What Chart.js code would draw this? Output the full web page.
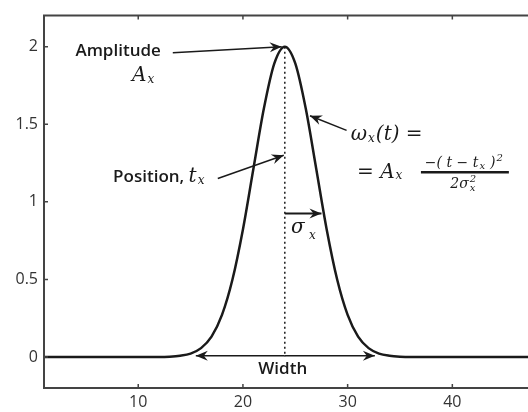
<!DOCTYPE html>
<html lang="en">
<head>
    <meta charset="UTF-8">
    <title>Gaussian pulse</title>
    <style>
        html, body {
            margin: 0;
            padding: 0;
            background: #ffffff;
            overflow: hidden;
        }
        .frame {
            width: 528px;
            height: 412px;
            overflow: hidden;
        }
        canvas {
            display: block;
        }
    </style>
</head>
<body>
    <div class="frame">
        <canvas id="pulseChart" width="540" height="412"></canvas>
    </div>
    <script src="https://cdn.jsdelivr.net/npm/chart.js"></script>
    <script>
        // values
        const tValues = [1, 2, 3, 4, 5, 6, 7, 8, 9, 10, 11, 12, 13, 14, 15, 16, 17, 18, 19, 20, 21, 22, 23, 24,
                         25, 26, 27, 28, 29, 30, 31, 32, 33, 34, 35, 36, 37, 38, 39, 40, 41, 42, 43, 44, 45, 46, 47, 48];
        const wValues = [0, 0, 0, 0, 0, 0, 0, 0, 0, 0, 0, 0, 0.002, 0.008, 0.022, 0.057, 0.131, 0.271, 0.499, 0.822, 1.213, 1.601, 1.892, 2.0,
                         1.892, 1.601, 1.213, 0.822, 0.499, 0.271, 0.131, 0.057, 0.022, 0.008, 0.002, 0, 0, 0, 0, 0, 0, 0, 0, 0, 0, 0, 0, 0];
        const xTicks = [10, 20, 30, 40];
        const yTicks = [0, 0.5, 1, 1.5, 2];

        const tickFont = { family: '"Open Sans", sans-serif', size: 16 };
        const labelFont = '600 17px "Open Sans", sans-serif';
        const mathFont = 'italic 20px "DejaVu Serif", serif';
        const subFont = 'italic 12px "DejaVu Serif", serif';
        const smallFont = 'italic 14px "DejaVu Serif", serif';
        const tinyFont = 'italic 10px "DejaVu Serif", serif';

        function arrowHead(ctx, x1, y1, x2, y2) {
            const a = Math.atan2(y2 - y1, x2 - x1);
            const len = 12, half = 5, back = 8;
            ctx.save();
            ctx.translate(x2, y2);
            ctx.rotate(a);
            ctx.beginPath();
            ctx.moveTo(0, 0);
            ctx.lineTo(-len, -half);
            ctx.lineTo(-back, 0);
            ctx.lineTo(-len, half);
            ctx.closePath();
            ctx.fill();
            ctx.restore();
        }

        function arrow(ctx, x1, y1, x2, y2) {
            ctx.beginPath();
            ctx.moveTo(x1, y1);
            ctx.lineTo(x2, y2);
            ctx.stroke();
            arrowHead(ctx, x1, y1, x2, y2);
        }

        // pieces of text drawn one after another: {t, f, dy, dx, stay}
        function richText(ctx, x, y, pieces, align) {
            let total = 0;
            pieces.forEach(p => {
                ctx.font = p.f;
                if (!p.stay) total += ctx.measureText(p.t).width + (p.dx || 0);
            });
            let cx = align === 'center' ? x - total / 2 : x;
            ctx.textAlign = 'left';
            pieces.forEach(p => {
                ctx.font = p.f;
                ctx.fillText(p.t, cx, y + (p.dy || 0));
                if (!p.stay) cx += ctx.measureText(p.t).width + (p.dx || 0);
            });
        }

        const annotations = {
            id: 'annotations',
            afterDatasetsDraw(chart) {
                const ctx = chart.ctx;
                const xs = chart.scales.x, ys = chart.scales.y;
                const px = v => xs.getPixelForValue(v);
                const py = v => ys.getPixelForValue(v);
                const area = chart.chartArea;

                ctx.save();
                ctx.strokeStyle = '#1a1a1a';
                ctx.fillStyle = '#1a1a1a';

                // dotted line at the position
                ctx.lineWidth = 1.5;
                ctx.setLineDash([2, 3]);
                ctx.beginPath();
                ctx.moveTo(px(24), py(2));
                ctx.lineTo(px(24), py(0));
                ctx.stroke();
                ctx.setLineDash([]);

                ctx.lineWidth = 1.5;
                arrow(ctx, px(13.3), py(1.96), px(23.7), py(2.0));
                arrow(ctx, px(17.6), py(1.15), px(23.9), py(1.30));
                arrow(ctx, px(29.9), py(1.46), px(26.4), py(1.555));
                ctx.lineWidth = 2;
                arrow(ctx, px(24), py(0.924), px(27.5), py(0.924));
                ctx.lineWidth = 1.5;
                arrow(ctx, px(24), py(0.008), px(15.5), py(0.008));
                arrow(ctx, px(24), py(0.008), px(32.6), py(0.008));

                ctx.textBaseline = 'middle';
                ctx.font = labelFont;
                ctx.textAlign = 'left';
                ctx.fillText('Amplitude', px(4.0), py(1.968));
                ctx.textAlign = 'center';
                ctx.fillText('Width', px(23.8), py(-0.076));

                richText(ctx, px(9.4), py(1.81), [{ t: 'A', f: mathFont, dx: 1 }, { t: 'x', f: subFont, dy: 4 }]);
                richText(ctx, px(7.6), py(1.16), [{ t: 'Position, ', f: labelFont }, { t: 't', f: mathFont, dx: 1 }, { t: 'x', f: subFont, dy: 4 }]);
                richText(ctx, px(30.3), py(1.433), [{ t: '\u03c9', f: mathFont, dx: 1 }, { t: 'x', f: subFont, dy: 4, dx: 1 }, { t: '(t) =', f: mathFont }]);
                richText(ctx, px(30.9), py(1.19), [{ t: '= A', f: mathFont, dx: 1 }, { t: 'x', f: subFont, dy: 4 }]);

                // fraction
                ctx.lineWidth = 2.5;
                ctx.beginPath();
                ctx.moveTo(px(37.0), py(1.19));
                ctx.lineTo(px(45.4), py(1.19));
                ctx.stroke();
                richText(ctx, px(41.1), py(1.245), [
                    { t: '\u2212( t \u2212 t', f: smallFont, dx: 1 },
                    { t: 'x', f: tinyFont, dy: 3, dx: 5 },
                    { t: ')', f: smallFont, dx: 1 },
                    { t: '2', f: tinyFont, dy: -5 }
                ], 'center');
                richText(ctx, px(41.0), py(1.115), [
                    { t: '2\u03c3', f: smallFont, dx: 1 },
                    { t: '2', f: tinyFont, dy: -5, stay: true },
                    { t: 'x', f: tinyFont, dy: 4 }
                ], 'center');

                // sigma_x
                ctx.textAlign = 'left';
                ctx.font = 'italic 20px "DejaVu Serif", serif';
                ctx.fillText('\u03c3', px(24.6), py(0.83));
                ctx.font = subFont;
                ctx.fillText('x', px(26.3), py(0.78));

                // box (right side falls outside the visible frame) and inward ticks
                ctx.strokeStyle = '#444444';
                ctx.lineWidth = 2;
                ctx.beginPath();
                ctx.moveTo(area.right, area.top);
                ctx.lineTo(area.left, area.top);
                ctx.lineTo(area.left, area.bottom);
                ctx.lineTo(area.right, area.bottom);
                ctx.stroke();
                ctx.lineWidth = 1.5;
                ctx.beginPath();
                xTicks.forEach(v => {
                    const x = px(v);
                    ctx.moveTo(x, area.bottom);
                    ctx.lineTo(x, area.bottom - 4);
                    ctx.moveTo(x, area.top);
                    ctx.lineTo(x, area.top + 4);
                });
                yTicks.forEach(v => {
                    const y = py(v);
                    ctx.moveTo(area.left, y);
                    ctx.lineTo(area.left + 4, y);
                    ctx.moveTo(area.right, y);
                    ctx.lineTo(area.right - 4, y);
                });
                ctx.stroke();
                ctx.restore();
            }
        };

        const ctx = document.getElementById('pulseChart').getContext('2d');
        new Chart(ctx, {
            type: 'line',
            data: {
                datasets: [{
                    data: tValues.map((t, i) => ({ x: t, y: wValues[i] })),
                    borderColor: '#1a1a1a',
                    borderWidth: 2.5,
                    pointRadius: 0,
                    cubicInterpolationMode: 'monotone',
                    fill: false
                }]
            },
            options: {
                responsive: false,
                animation: false,
                layout: { padding: { top: 12, right: 6, left: 0, bottom: 0 } },
                plugins: {
                    legend: { display: false },
                    tooltip: { enabled: false }
                },
                scales: {
                    x: {
                        type: 'linear',
                        min: 1,
                        max: 47.8,
                        afterBuildTicks: scale => { scale.ticks = xTicks.map(v => ({ value: v })); },
                        afterFit: scale => { scale.height = 24; },
                        grid: { display: false, drawTicks: false },
                        border: { display: false },
                        ticks: { color: '#333333', font: tickFont, padding: 5, maxRotation: 0 }
                    },
                    y: {
                        min: -0.2,
                        max: 2.2,
                        afterBuildTicks: scale => { scale.ticks = yTicks.map(v => ({ value: v })); },
                        afterFit: scale => { scale.width = 44; },
                        grid: { display: false, drawTicks: false },
                        border: { display: false },
                        ticks: { color: '#333333', font: tickFont, padding: 6, callback: v => String(v) }
                    }
                }
            },
            plugins: [annotations]
        });
    </script>
</body>
</html>
